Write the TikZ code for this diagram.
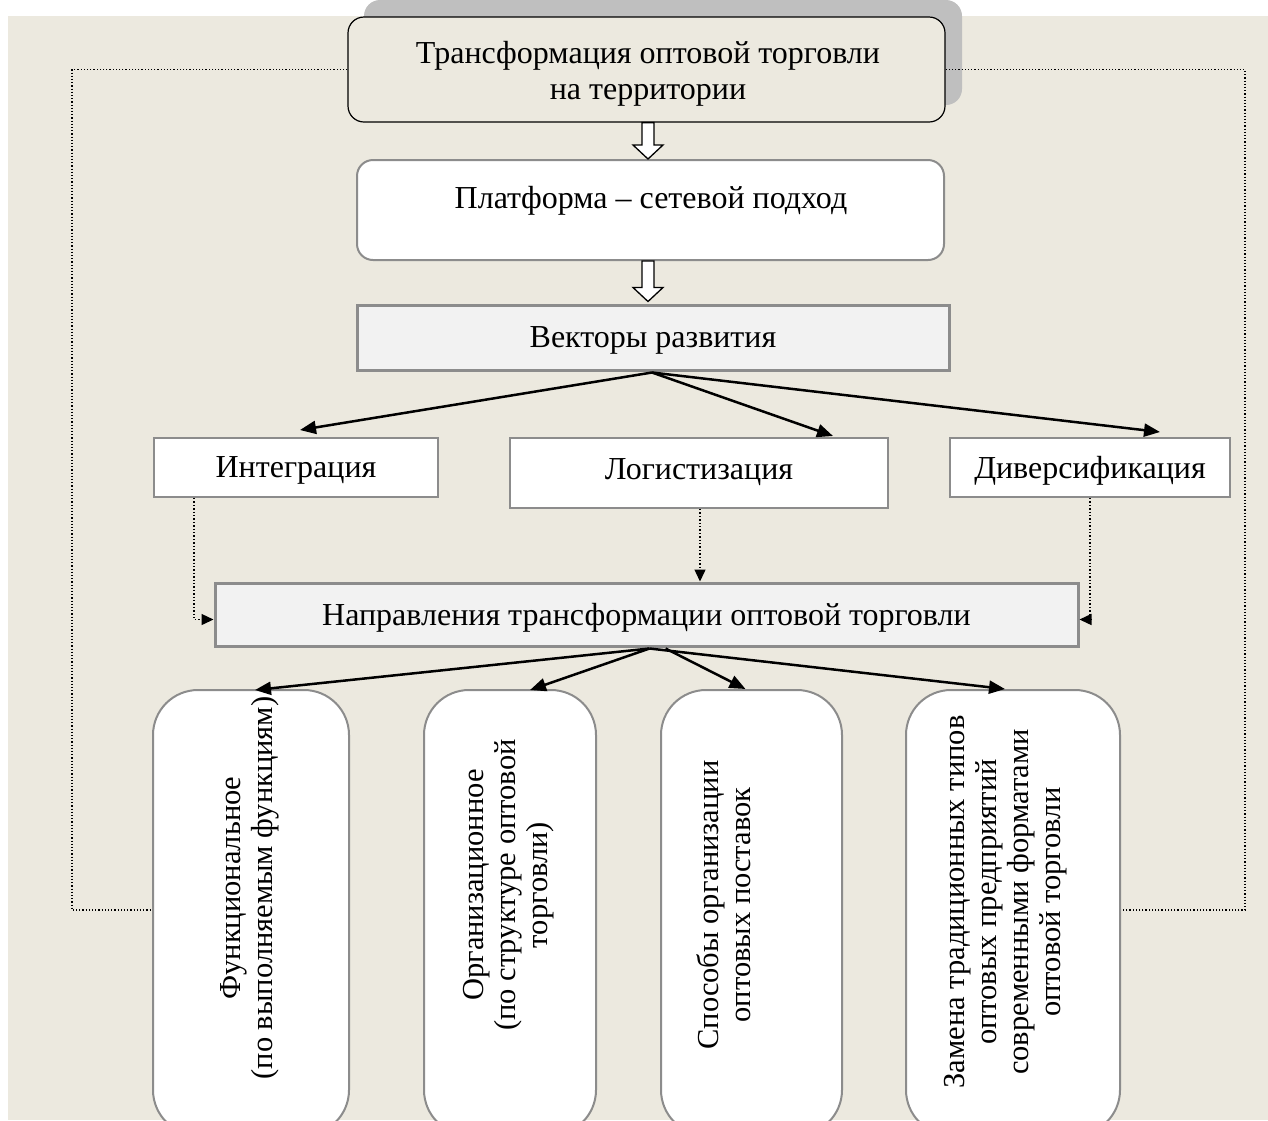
\documentclass[tikz,border=0pt]{standalone}
\usepackage{fontspec}
\setmainfont{Liberation Serif}
\usetikzlibrary{arrows.meta,calc}
\definecolor{bg}{HTML}{ECE9DF}
\definecolor{shadowgray}{HTML}{BFBFBF}
\definecolor{boxgray}{HTML}{F2F2F2}
\definecolor{edgegray}{HTML}{8C8C8C}
\newcommand\myhollowarrow[2]{%
  \draw[fill=white, line width=1.3pt] let \p1=(#1), \p2=(#2) in
    (\x1-6,\y1) -- (\x1-6,\y2+14) -- (\x1-15,\y2+14) -- (\x1,\y2) --
    (\x1+15,\y2+14) -- (\x1+6,\y2+14) -- (\x1+6,\y1) -- cycle;}
\begin{document}
\begin{tikzpicture}[x=1pt,y=-1pt,
  txt/.style={font=\fontsize{32}{36}\selectfont, align=center, inner sep=0pt},
  vtxt/.style={font=\fontsize{30.5}{32}\selectfont, align=center, inner sep=0pt, rotate=90},
  plainbox/.style={draw=edgegray, line width=2pt, fill=white, inner sep=0pt, text depth=0pt, font=\fontsize{32}{36}\selectfont},
  greybox/.style={draw=edgegray, line width=3pt, fill=boxgray, inner sep=0pt, text depth=0pt, font=\fontsize{32}{36}\selectfont},
  tallbox/.style={draw=edgegray, line width=2pt, fill=white, rounded corners=45pt, inner sep=0pt},
  solidarr/.style={line width=2.5pt, -{Triangle[length=16pt,width=13pt]}},
  dotarr/.style={line width=1.4pt, dotted, -{Triangle[length=12pt,width=11pt]}},
  dotline/.style={line width=1.2pt, dotted}]
\useasboundingbox (0,0) rectangle (1268,1120);
\clip (0,0) rectangle (1268,1120);
\fill[bg] (8,16) rectangle (1268,1120);
% shadow of top box
\fill[shadowgray, rounded corners=16pt] (364,0) rectangle (962,105);
% top box
\node[draw=black, line width=1.2pt, fill=bg, rounded corners=16pt, minimum width=597pt, minimum height=105pt, inner sep=0pt] (top) at (646.5,69.5) {};
\node[txt] (toptext) at (648,74) {Трансформация оптовой торговли\\на территории};
% platform box
\node[draw=edgegray, line width=2pt, fill=white, rounded corners=16pt, minimum width=587pt, minimum height=100pt, inner sep=0pt] (platt) at (650.5,210) {};
\node[txt] (platttext) at (651,201) {Платформа -- сетевой подход};
% vectors
\node[greybox, minimum width=592pt, minimum height=65pt] (vec) at (653,337.5) {Векторы развития};
\node[plainbox, minimum width=284pt, minimum height=59pt] (integ) at (296,467.5) {Интеграция};
\node[plainbox, minimum width=378pt, minimum height=70pt] (logist) at (699,473) {\raisebox{7pt}{Логистизация}};
\node[plainbox, minimum width=280pt, minimum height=59pt] (divers) at (1090,467.5) {Диверсификация};
% directions
\node[greybox, minimum width=863pt, minimum height=63pt] (napr) at (646.5,614.5) {Направления трансформации оптовой торговли};
% bottom boxes
\node[tallbox, minimum width=196pt, minimum height=445pt] (b1) at (251,912.5) {};
\node[tallbox, minimum width=172pt, minimum height=445pt] (b2) at (510,912.5) {};
\node[tallbox, minimum width=181pt, minimum height=445pt] (b3) at (751.5,912.5) {};
\node[tallbox, minimum width=214pt, minimum height=445pt] (b4) at (1013,912.5) {};
\node[vtxt] (t1) at (250,888) {Функциональное\\(по выполняемым функциям)};
\node[vtxt] (t2) at (509,885) {Организационное\\(по структуре оптовой\\торговли)};
\node[vtxt] (t3) at (724,905) {Способы организации\\оптовых поставок};
\node[vtxt] (t4) at (1006,902) {Замена традиционных типов\\оптовых предприятий\\современными форматами\\оптовой торговли};
% hollow arrows
\myhollowarrow{$(top.south)+(1.5,0)$}{$(platt.north)+(-2.5,0)$}
\myhollowarrow{$(platt.south)+(-2.5,0)$}{$(vec.north)+(-5,-2)$}
% solid arrows from vectors
\coordinate (vs) at ($(vec.south)+(-1,1)$);
\draw[solidarr] (vs) -- ($(integ.north)+(4,-7)$);
\draw[solidarr] (vs) -- ($(logist.north)+(134,-1)$);
\draw[solidarr] (vs) -- ($(divers.north)+(70,-5)$);
% dotted arrows into directions
\coordinate (is) at ($(integ.south west)+(41,0)$);
\coordinate (ls) at ($(logist.south)+(1,0)$);
\coordinate (ds) at (divers.south);
\draw[dotarr] (is) |- ($(napr.west)+(0,5)$);
\draw[dotarr] (ls) -- (ls |- napr.north);
\draw[dotarr] (ds) |- ($(napr.east)+(0,5)$);
% solid arrows to bottom boxes
\coordinate (ns) at ($(napr.south)+(3,1)$);
\draw[solidarr] (ns) -- ($(b1.north)+(4,1)$);
\draw[solidarr] (ns) -- ($(b2.north)+(20,1)$);
\draw[solidarr] ($(ns)+(16,0)$) -- ($(b3.north)+(-6,0)$);
\draw[solidarr] (ns) -- ($(b4.north)+(-8,0)$);
% large dotted loop
\coordinate (lc) at (72,910);
\coordinate (rc) at (1245,910);
\draw[dotline] (top.west) -| (lc) -- (lc -| b1.west);
\draw[dotline] (top.east) -| (rc) -- (rc -| b4.east);
\end{tikzpicture}
\end{document}
